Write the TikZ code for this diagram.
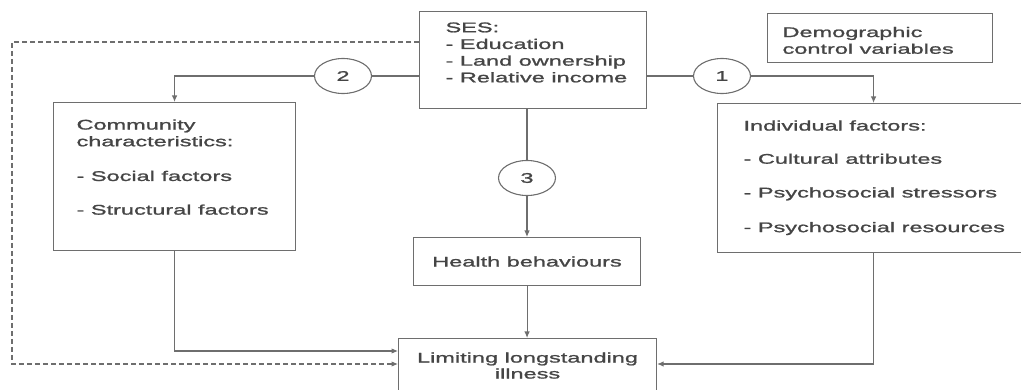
\documentclass[tikz,border=0pt]{standalone}
\usepackage{fontspec}
\setmainfont{Liberation Sans}[FakeStretch=1.68,FakeBold=1.3]
\usetikzlibrary{shapes.geometric,arrows.meta}
\definecolor{linegray}{HTML}{6E6E6E}
\definecolor{textgray}{HTML}{454545}
\tikzset{
  box/.style={draw=linegray, line width=1.1pt, inner sep=0pt, anchor=north west,
    text=textgray, font=\fontsize{14}{16.7}\selectfont, text height=10pt},
  num/.style={ellipse, draw=linegray, line width=1.1pt, inner sep=0pt,
    minimum width=57pt, minimum height=35pt, text=textgray, font=\fontsize{14}{16.7}\selectfont},
  conn/.style={draw=linegray, line width=1.1pt},
  arr/.style={conn, -{Latex[length=6.5pt,width=5.5pt]}},
  dashconn/.style={arr, dash pattern=on 5pt off 3pt}
}
\newcommand{\lefttext}[2]{\makebox[#1][l]{\begin{tabular}[t]{@{}l@{}}#2\end{tabular}}}
\begin{document}
\begin{tikzpicture}[x=1pt,y=-1pt]
\useasboundingbox (0,0) rectangle (1021,390);
\clip (0,0) rectangle (1021,390);
\node[box, minimum width=227pt, minimum height=97pt, text depth=65.6pt] (ses) at (419,11)
  {\lefttext{175pt}{SES:\\- Education\\- Land ownership\\- Relative income}};
\node[box, minimum width=225pt, minimum height=49pt, text depth=12pt] (demo) at (767,13)
  {\lefttext{195pt}{Demographic\\control variables}};
\node[box, minimum width=242pt, minimum height=148pt, text depth=104pt] (comm) at (53,102)
  {\lefttext{196pt}{Community\\characteristics:\\[18pt]- Social factors\\[17pt]- Structural factors}};
\node[box, minimum width=312pt, minimum height=149pt, text depth=105pt] (indiv) at (717,103)
  {\lefttext{260pt}{Individual factors:\\[16.5pt]- Cultural attributes\\[17pt]- Psychosocial stressors\\[18pt]- Psychosocial resources}};
\node[box, minimum width=227pt, minimum height=48pt, text depth=0pt] (health) at (413,237) {Health behaviours};
\node[box, minimum width=258pt, minimum height=54pt, text depth=16pt] (ill) at (398,338)
  {\begin{tabular}[t]{@{}c@{}}Limiting longstanding\\[-0.7pt]illness\end{tabular}};
\node[num] (c2) at (343,76) {2};
\node[num] (c1) at (722,76) {1};
\node[num] (c3) at (527,178) {3};
\coordinate (sesdash) at ([shift={(0,31)}]ses.north west);
\coordinate (illa) at ([shift={(0,13)}]ill.north west);
\coordinate (illb) at ([shift={(0,26)}]ill.north west);
\coordinate (illc) at ([shift={(0,26)}]ill.north east);
\draw[conn] (ses.west |- c2) -- (c2);
\draw[arr] (c2) -| (comm.north);
\draw[conn] (ses.east |- c1) -- (c1);
\draw[arr] (c1) -| (indiv.north);
\draw[conn] (ses.south -| c3) -- (c3);
\draw[arr] (c3) -- (c3 |- health.north);
\draw[arr] (health) -- (health |- ill.north);
\draw[arr] (comm.south) |- (illa);
\draw[arr] (indiv.south) |- (illc);
\draw[dashconn] (sesdash) -- ++(-407,0) |- (illb);
\end{tikzpicture}
\end{document}
